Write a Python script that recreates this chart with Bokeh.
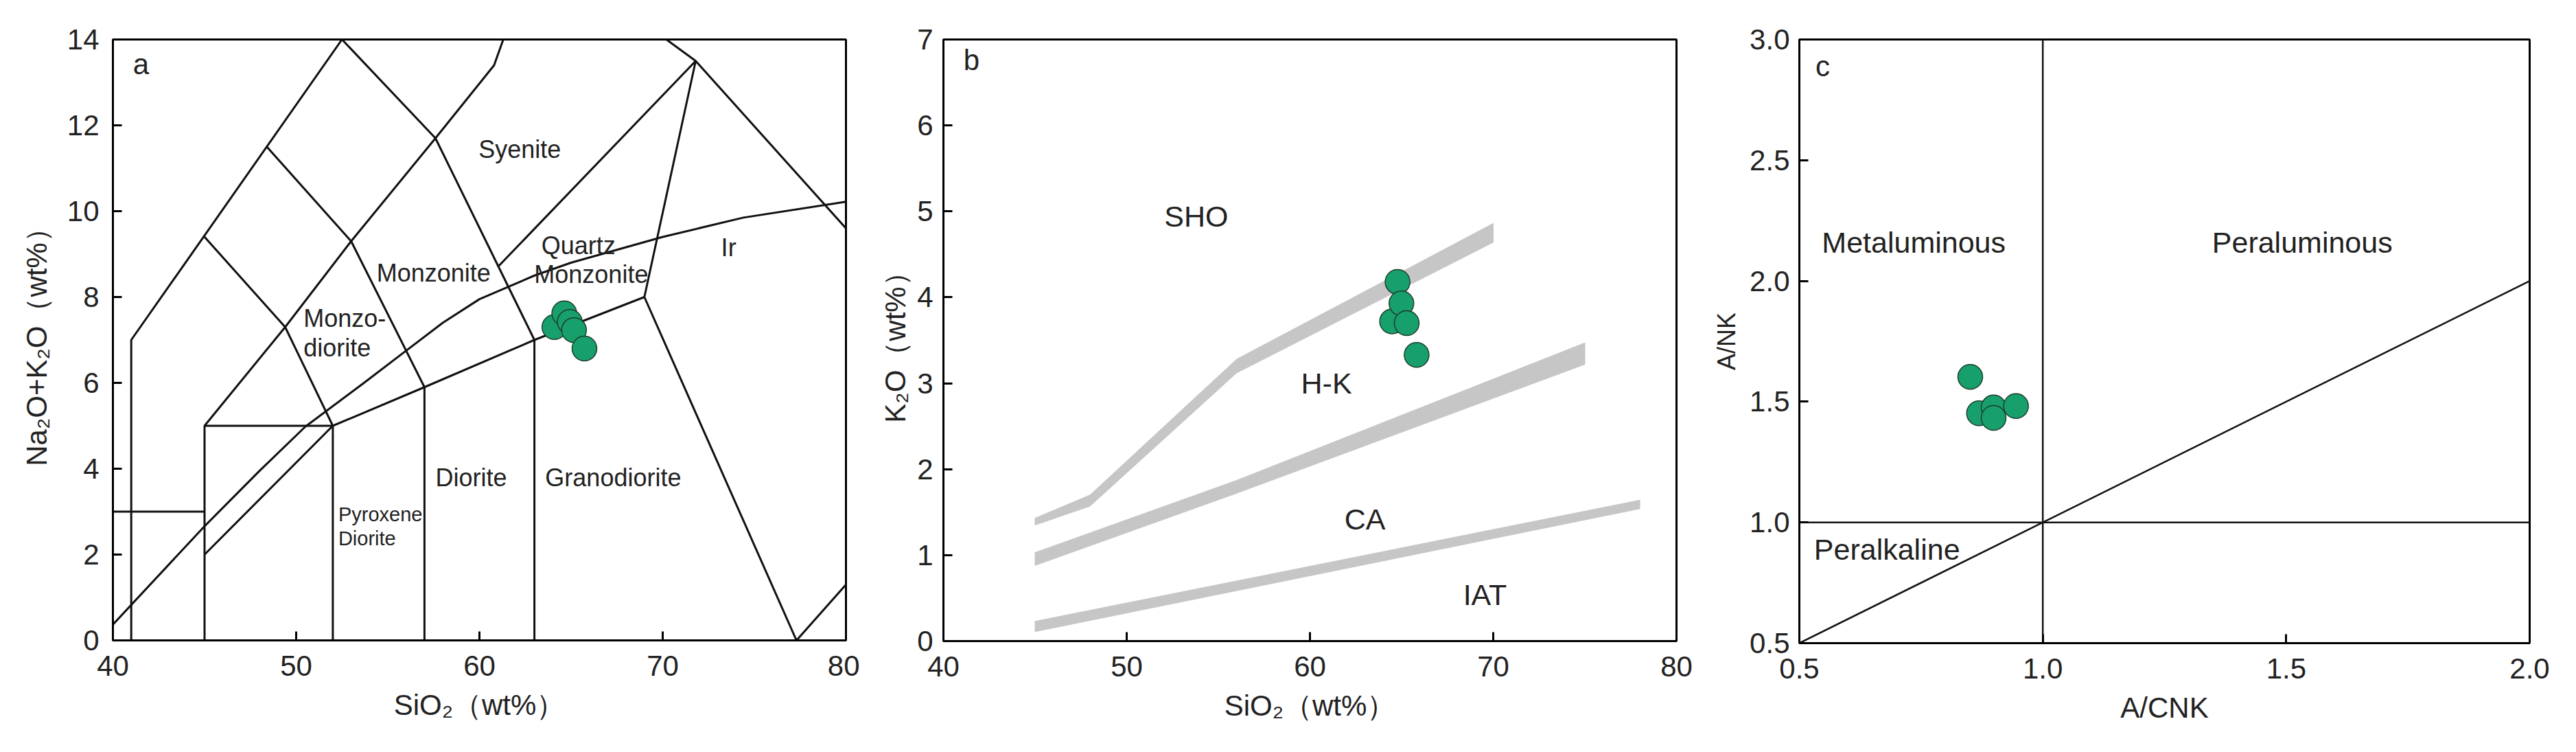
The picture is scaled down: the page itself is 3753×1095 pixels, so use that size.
from bokeh.plotting import figure
from bokeh.layouts import row
from bokeh.models import FixedTicker, PrintfTickFormatter, Range1d
from bokeh.core.properties import value
from bokeh.embed import file_html
from bokeh.resources import INLINE

# ---------------- data: panel a (TAS) ----------------
tas_xs = [
    [41, 41, 52.5],
    [40, 45],
    [45, 45, 52],
    [52, 52],
    [57, 57],
    [63, 63],
    [45, 52, 57, 63, 69],
    [69, 77.3, 80],
    [69, 71.8, 80],
    [71.8, 70.2],
    [45, 49.4, 53, 57.6, 60.8, 61.3],
    [45, 49.4, 52],
    [48.4, 53, 57],
    [52.5, 57.6, 63],
    [61.0, 71.8],
]
tas_ys = [
    [0, 7, 14],
    [3, 3],
    [0, 5, 5],
    [0, 5],
    [0, 5.9],
    [0, 7],
    [2, 5, 5.9, 7, 8],
    [8, 0, 1.3],
    [8, 13.5, 9.6],
    [13.5, 14],
    [5, 7.3, 9.3, 11.7, 13.4, 14],
    [9.4, 7.3, 5],
    [11.5, 9.3, 5.9],
    [14, 11.7, 7],
    [8.7, 13.5],
]
ir_x = [40, 45, 48, 50.5, 53.7, 56, 58, 60, 63, 65, 70, 74.4, 80]
ir_y = [0.37, 2.66, 3.95, 4.98, 6.0, 6.75, 7.4, 7.95, 8.5, 8.8, 9.4, 9.85, 10.22]

tas_lbl = ["Syenite", "Quartz", "Monzonite", "Ir", "Monzonite", "Diorite", "Granodiorite"]
tas_lbl_x = [62.2, 65.4, 66.1, 73.6, 57.5, 59.55, 67.3]
tas_lbl_y = [11.44, 9.2, 8.53, 9.15, 8.56, 3.8, 3.8]
tas_lbl_left = ["Monzo-", "diorite"]
tas_lbl_left_x = [50.4, 50.4]
tas_lbl_left_y = [7.5, 6.82]
tas_small = ["Pyroxene", "Diorite"]
tas_small_x = [52.3, 52.3]
tas_small_y = [2.94, 2.38]

sio2_a = [64.09, 64.63, 64.93, 65.16, 65.73]
alk_a = [7.30, 7.62, 7.42, 7.23, 6.80]

# ---------------- data: panel b (SiO2-K2O) ----------------
sho_x = [45, 48, 56, 70]
sho_hi = [1.43, 1.70, 3.28, 4.86]
sho_lo = [1.35, 1.57, 3.12, 4.64]
hk_x = [45, 56, 75]
hk_hi = [1.03, 1.87, 3.47]
hk_lo = [0.88, 1.72, 3.22]
ca_x = [45, 78]
ca_hi = [0.23, 1.64]
ca_lo = [0.11, 1.54]

k_lbl = ["SHO", "H-K", "CA", "IAT"]
k_lbl_x = [53.8, 60.9, 63.0, 69.55]
k_lbl_y = [4.94, 3.0, 1.42, 0.54]

sio2_b = [64.48, 64.78, 64.99, 65.28, 65.82]
k2o_b = [3.72, 4.18, 3.93, 3.70, 3.33]

# ---------------- data: panel c (A/CNK - A/NK) ----------------
acnk_xs = [[1.0, 1.0], [0.5, 2.0], [0.5, 2.0]]
acnk_ys = [[0.5, 3.0], [1.0, 1.0], [0.5, 2.0]]
c_lbl = ["Metaluminous", "Peraluminous", "Peralkaline"]
c_lbl_x = [0.735, 1.533, 0.68]
c_lbl_y = [2.16, 2.16, 0.887]

acnk_c = [0.851, 0.869, 0.899, 0.899, 0.945]
ank_c = [1.603, 1.452, 1.476, 1.433, 1.482]

FONT = "Liberation Sans"
TXT = "#222222"
GREEN = "#17a06c"
EDGE = "#1e3d2c"


def make_fig(xr, yr, xticks, yticks, xlabel, ylabel, fw, fh, bl, br, bt,
             ylab_standoff, ylbl_font, tick_standoff_y, fmt=None):
    p = figure(frame_width=fw, frame_height=fh,
               x_range=Range1d(*xr), y_range=Range1d(*yr),
               output_backend="svg", toolbar_location=None,
               min_border_left=bl, min_border_right=br,
               min_border_top=bt, min_border_bottom=140)
    p.background_fill_color = "white"
    p.border_fill_color = "white"
    p.outline_line_color = "black"
    p.outline_line_width = 3
    p.grid.visible = False
    for ax in (p.xaxis[0], p.yaxis[0]):
        ax.axis_line_width = 3
        ax.axis_line_color = "black"
        ax.major_tick_in = 13
        ax.major_tick_out = 0
        ax.major_tick_line_width = 3
        ax.major_tick_line_color = "black"
        ax.minor_tick_line_color = None
        ax.major_label_text_font = FONT
        ax.major_label_text_font_size = "42px"
        ax.major_label_text_color = TXT
        ax.axis_label_text_font = FONT
        ax.axis_label_text_font_style = "normal"
        ax.axis_label_text_color = TXT
        if fmt:
            ax.formatter = PrintfTickFormatter(format=fmt)
    p.xaxis.ticker = FixedTicker(ticks=xticks)
    p.yaxis.ticker = FixedTicker(ticks=yticks)
    p.xaxis.axis_label = xlabel
    p.yaxis.axis_label = ylabel
    p.xaxis.axis_label_text_font_size = "42px"
    p.yaxis.axis_label_text_font_size = ylbl_font
    p.xaxis.major_label_standoff = 22
    p.yaxis.major_label_standoff = tick_standoff_y
    p.xaxis.axis_label_standoff = 16
    p.yaxis.axis_label_standoff = ylab_standoff
    return p


def add_text(p, xs, ys, texts, size, align="center"):
    p.text(x=xs, y=ys, text=texts, text_font=value(FONT),
           text_font_size=value(size), text_color=TXT,
           text_align=align, text_baseline="middle")


def add_points(p, xs, ys):
    p.scatter(xs, ys, size=36, fill_color=GREEN, line_color=EDGE, line_width=1.5)


# ---------- panel a ----------
pa = make_fig((40, 80), (0, 14), [40, 50, 60, 70, 80], list(range(0, 15, 2)),
              "SiO₂（wt%）", "Na₂O+K₂O（wt%）", 1068, 875, 164, 20, 55, 18, "42px", 20)
pa.multi_line(tas_xs, tas_ys, line_color="#111111", line_width=3)
pa.line(ir_x, ir_y, line_color="#111111", line_width=3)
add_text(pa, tas_lbl_x, tas_lbl_y, tas_lbl, "36px")
add_text(pa, tas_lbl_left_x, tas_lbl_left_y, tas_lbl_left, "36px", "left")
add_text(pa, tas_small_x, tas_small_y, tas_small, "29px", "left")
add_text(pa, [41.1], [13.42], ["a"], "42px", "left")
add_points(pa, sio2_a, alk_a)

# ---------- panel b ----------
pb = make_fig((40, 80), (0, 7), [40, 50, 60, 70, 80], list(range(0, 8)),
              "SiO₂（wt%）", "K₂O（wt%）", 1068, 876, 122, 50, 57, 5, "42px", 15)
band_xs = [sho_x + sho_x[::-1], hk_x + hk_x[::-1], ca_x + ca_x[::-1]]
band_ys = [sho_hi + sho_lo[::-1], hk_hi + hk_lo[::-1], ca_hi + ca_lo[::-1]]
pb.patches(band_xs, band_ys, fill_color="#c6c6c6", line_color="#c6c6c6", line_width=1)
add_text(pb, k_lbl_x, k_lbl_y, k_lbl, "43px")
add_text(pb, [41.1], [6.76], ["b"], "42px", "left")
add_points(pb, sio2_b, k2o_b)

# ---------- panel c ----------
pc = make_fig((0.5, 2.0), (0.5, 3.0), [0.5, 1.0, 1.5, 2.0], [0.5, 1.0, 1.5, 2.0, 2.5, 3.0],
              "A/CNK", "A/NK", 1064, 879, 119, 60, 56, 10, "36px", 14, fmt="%.1f")
pc.multi_line(acnk_xs, acnk_ys, line_color="#111111", line_width=2.5)
add_text(pc, c_lbl_x, c_lbl_y, c_lbl, "43px")
add_text(pc, [0.533], [2.89], ["c"], "42px", "left")
add_points(pc, acnk_c, ank_c)

layout = row(pa, pb, pc, spacing=0)
open("out.html", "w").write(file_html(layout, INLINE))
